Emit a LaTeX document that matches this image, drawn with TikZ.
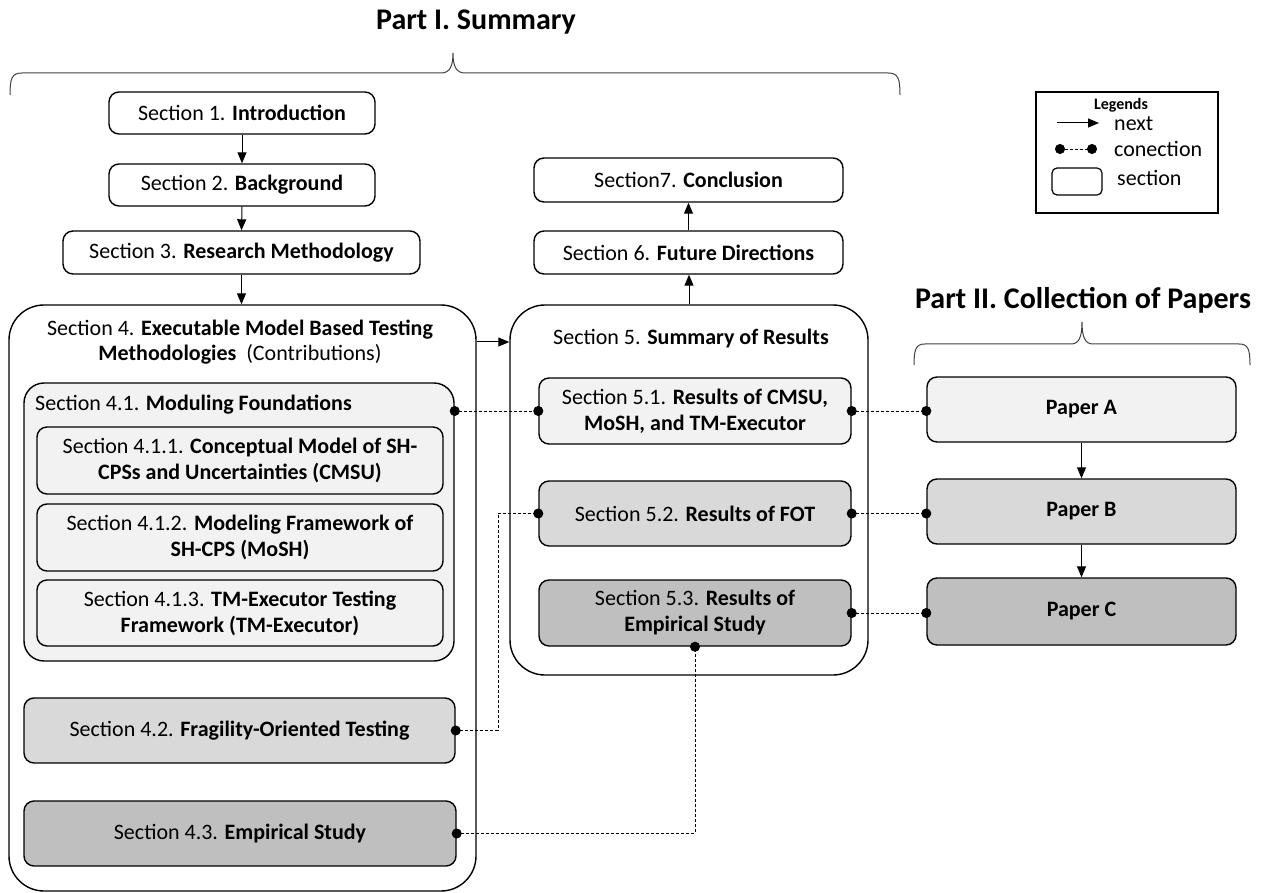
\documentclass[tikz,border=0pt]{standalone}
\usepackage{fontspec}
\setmainfont{Carlito}
\usetikzlibrary{arrows.meta,calc}
\definecolor{fillA}{HTML}{F2F2F2}
\definecolor{fillB}{HTML}{D9D9D9}
\definecolor{fillC}{HTML}{BFBFBF}
\begin{document}
\begin{tikzpicture}[x=1pt,y=-1pt,
  every node/.style={font=\fontsize{22}{26}\selectfont, inner sep=0pt},
  secbox/.style={draw, line width=1.4pt, rounded corners=10pt, align=center},
  bigbox/.style={draw, line width=1.4pt, rounded corners=35pt},
  title/.style={font=\fontsize{30}{36}\selectfont\bfseries},
  nextarrow/.style={line width=1pt, -{Triangle[length=11pt,width=9pt]}},
  link/.style={densely dashed, line width=0.8pt,
    {Circle[length=10pt]}-{Circle[length=10pt]}, shorten <=-5pt, shorten >=-5pt},
  bracestyle/.style={line width=1pt, draw=black!75}
]
\useasboundingbox (0,0) rectangle (1264,893);

% headings and braces
\node[title] (part1) at (476,22) {Part I. Summary};
\node[title] (part2) at (1083,300) {Part II. Collection of Papers};
\draw[bracestyle] (10,95) .. controls (10,78) and (12,73) .. (22,73) -- (441,73)
  .. controls (450,73) and (453,66) .. (453,53)
  .. controls (453,66) and (456,73) .. (465,73) -- (888,73)
  .. controls (898,73) and (900,78) .. (900,95);
\draw[bracestyle] (914,365) .. controls (914,349) and (916,344) .. (925,344) -- (1071,344)
  .. controls (1079,344) and (1082,337) .. (1082,322)
  .. controls (1082,337) and (1085,344) .. (1093,344) -- (1239,344)
  .. controls (1248,344) and (1250,349) .. (1250,365);

% sections 1-3
\node[secbox, minimum width=266pt, minimum height=42pt] (s1) at (242,113) {Section 1. \textbf{Introduction}};
\node[secbox, minimum width=266pt, minimum height=42pt] (s2) at (242,185) {Section 2. \textbf{Background}};
\node[secbox, minimum width=357pt, minimum height=43pt] (s3) at (241.5,252.5) {Section 3. \textbf{Research Methodology}};

% section 4 container
\node[bigbox, minimum width=467pt, minimum height=586pt] (s4) at (242.5,598) {};
\node[align=center, font=\fontsize{22}{25}\selectfont] (s4t) at (240,342)
  {Section 4. \textbf{Executable Model Based Testing}\\\textbf{Methodologies}~~(Contributions)};
\node[secbox, fill=fillA, rounded corners=20pt, minimum width=430pt, minimum height=278pt] (s41) at (239,522) {};
\node[anchor=west] (s41t) at (35,405) {Section 4.1. \textbf{Moduling Foundations}};
\node[secbox, fill=fillA, minimum width=406pt, minimum height=67pt] (s411) at (240,460.5)
  {Section 4.1.1. \textbf{Conceptual Model of SH-}\\\textbf{CPSs and Uncertainties (CMSU)}};
\node[secbox, fill=fillA, minimum width=406pt, minimum height=67pt] (s412) at (240,537.5)
  {Section 4.1.2. \textbf{Modeling Framework of}\\\textbf{SH-CPS (MoSH)}};
\node[secbox, fill=fillA, minimum width=406pt, minimum height=66pt] (s413) at (240,613)
  {Section 4.1.3. \textbf{TM-Executor Testing}\\\textbf{Framework (TM-Executor)}};
\node[secbox, fill=fillB, minimum width=431pt, minimum height=65pt] (s42) at (239.5,730.5)
  {Section 4.2. \textbf{Fragility-Oriented Testing}};
\node[secbox, fill=fillC, minimum width=432pt, minimum height=65pt] (s43) at (240,833.5)
  {Section 4.3. \textbf{Empirical Study}};

% section 5 container
\node[bigbox, minimum width=358pt, minimum height=370pt] (s5) at (689,490) {};
\node (s5t) at (691,339) {Section 5. \textbf{Summary of Results}};
\node[secbox, fill=fillA, minimum width=312pt, minimum height=66pt] (s51) at (695,411)
  {Section 5.1. \textbf{Results of CMSU,}\\\textbf{MoSH, and TM-Executor}};
\node[secbox, fill=fillB, minimum width=312pt, minimum height=65pt] (s52) at (695,513.5)
  {Section 5.2. \textbf{Results of FOT}};
\node[secbox, fill=fillC, minimum width=312pt, minimum height=66pt] (s53) at (695,613)
  {Section 5.3. \textbf{Results of}\\\textbf{Empirical Study}};

% sections 6-7
\node[secbox, minimum width=309pt, minimum height=43pt] (s6) at (688.5,252.5) {Section 6. \textbf{Future Directions}};
\node[secbox, minimum width=309pt, minimum height=44pt] (s7) at (688.5,180) {Section7. \textbf{Conclusion}};

% papers
\node[secbox, fill=fillA, minimum width=309pt, minimum height=65pt] (pA) at (1081.5,409.5) {\textbf{Paper A}};
\node[secbox, fill=fillB, minimum width=309pt, minimum height=65pt] (pB) at (1081.5,511.5) {\textbf{Paper B}};
\node[secbox, fill=fillC, minimum width=309pt, minimum height=67pt] (pC) at (1081.5,611.5) {\textbf{Paper C}};

% reading order
\draw[nextarrow] (s1.south) -- (s2.north);
\draw[nextarrow] (s2.south) -- (s3.north);
\draw[nextarrow] (s3.south) -- (s3.south |- s4.north);
\draw[nextarrow] (s4.east |- s4t) -- (s4t -| s5.west);
\draw[nextarrow] (s5.north) -- (s5.north |- s6.south);
\draw[nextarrow] (s6.north) -- (s7.south);
\draw[nextarrow] (pA.south) -- (pB.north);
\draw[nextarrow] (pB.south) -- (pC.north);

% connections
\coordinate (j42) at (498,730.5);
\draw[link] (s41.east |- s51.west) -- (s51.west);
\draw[link] (s51.east) -- (s51.east -| pA.west);
\draw[link] (s52.east) -- (s52.east -| pB.west);
\draw[link] (s53.east) -- (s53.east -| pC.west);
\draw[link] (s42.east) -- (j42) |- (s52.west);
\draw[link] (s43.east) -| (s53.south);

% legend
\node[draw, line width=1.2pt, minimum width=182pt, minimum height=121pt] (lg) at (1127,152.5) {};
\node[font=\fontsize{16}{19}\selectfont\bfseries] (lgt) at (1121,105) {Legends};
\coordinate (la1) at (1057,123);
\coordinate (la2) at (1099,123);
\draw[nextarrow] (la1) -- (la2);
\node[anchor=west] (lnext) at (1114,124) {next};
\coordinate (lc1) at (1060,149);
\coordinate (lc2) at (1092,149);
\draw[link] (lc1) -- (lc2);
\node[anchor=west] (lconn) at (1114,149) {conection};
\node[draw, line width=1.2pt, rounded corners=5pt, minimum width=50pt, minimum height=27pt] (lsec) at (1077,181.5) {};
\node[anchor=west] (lsect) at (1117,178) {section};
\end{tikzpicture}
\end{document}
